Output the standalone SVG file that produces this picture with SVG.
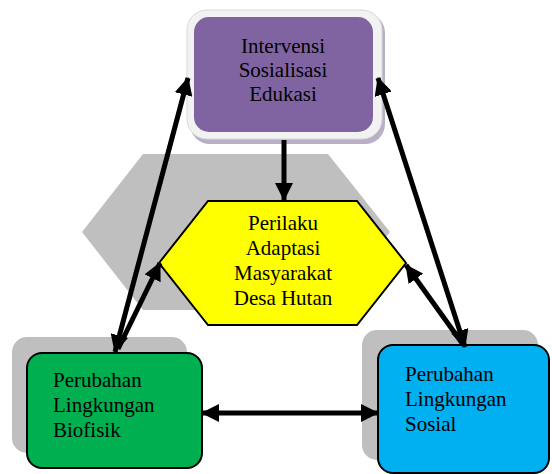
<svg xmlns="http://www.w3.org/2000/svg" width="552" height="474" viewBox="0 0 552 474">
<style>
  .t { font-family: "Liberation Serif", "Times New Roman", serif; font-size: 21px; fill: #000; }
  .c { text-anchor: middle; }
  .shadow { fill: #bfbfbf; }
  .box { stroke: #000; stroke-width: 2; }
  .conn { stroke: #000; stroke-width: 5; fill: none; }
</style>
<defs>
  <marker id="ah" viewBox="0 0 18 18" refX="17" refY="9" markerWidth="18" markerHeight="18" markerUnits="userSpaceOnUse" orient="auto-start-reverse">
    <path d="M0,0 L18,9 L0,18 z" fill="#000"/>
  </marker>
</defs>
<rect width="552" height="474" fill="#fff"/>

<g id="gray-hex">
  <polygon class="shadow" points="82,232 143,154 328,154 390,232 328,310 143,310"/>
</g>

<g id="node-intervensi">
  <rect x="190" y="13" width="195" height="131" rx="20" fill="#b9afc6"/>
  <rect x="187" y="10" width="195" height="129" rx="20" fill="#f2f2f2" stroke="#d9d9d9" stroke-width="1"/>
  <rect x="194" y="17" width="179" height="115" rx="15" fill="#8064a2"/>
  <text class="t c" x="283" y="53">Intervensi</text>
  <text class="t c" x="283" y="77">Sosialisasi</text>
  <text class="t c" x="283" y="101">Edukasi</text>
</g>

<g id="node-perilaku">
  <polygon points="159,263 208,201 357,201 406,263 357,325 208,325" fill="#ffff00" stroke="#000" stroke-width="2"/>
  <text class="t c" x="283" y="230">Perilaku</text>
  <text class="t c" x="283" y="255">Adaptasi</text>
  <text class="t c" x="283" y="280">Masyarakat</text>
  <text class="t c" x="283" y="305">Desa Hutan</text>
</g>

<g id="node-biofisik">
  <rect class="shadow" x="12" y="337" width="175" height="116" rx="15"/>
  <rect class="box" x="27" y="353" width="175" height="115" rx="15" fill="#00b050"/>
  <text class="t" x="53" y="387">Perubahan</text>
  <text class="t" x="53" y="412">Lingkungan</text>
  <text class="t" x="53" y="437">Biofisik</text>
</g>

<g id="node-sosial">
  <rect class="shadow" x="362" y="330" width="176" height="130" rx="15"/>
  <rect class="box" x="378" y="345" width="171" height="128" rx="15" fill="#00b0f0"/>
  <text class="t" x="405" y="381">Perubahan</text>
  <text class="t" x="405" y="406">Lingkungan</text>
  <text class="t" x="405" y="431">Sosial</text>
</g>

<g id="connectors">
  <line class="conn" x1="284" y1="140" x2="284" y2="200" marker-end="url(#ah)"/>
  <line class="conn" x1="115" y1="352" x2="188" y2="78" marker-start="url(#ah)" marker-end="url(#ah)"/>
  <line class="conn" x1="118" y1="349" x2="160" y2="263" marker-end="url(#ah)"/>
  <line class="conn" x1="465" y1="347" x2="378" y2="78" marker-start="url(#ah)" marker-end="url(#ah)"/>
  <line class="conn" x1="462" y1="343" x2="406" y2="265" marker-end="url(#ah)"/>
  <line class="conn" x1="202" y1="413" x2="378" y2="413" marker-start="url(#ah)" marker-end="url(#ah)"/>
</g>
</svg>
